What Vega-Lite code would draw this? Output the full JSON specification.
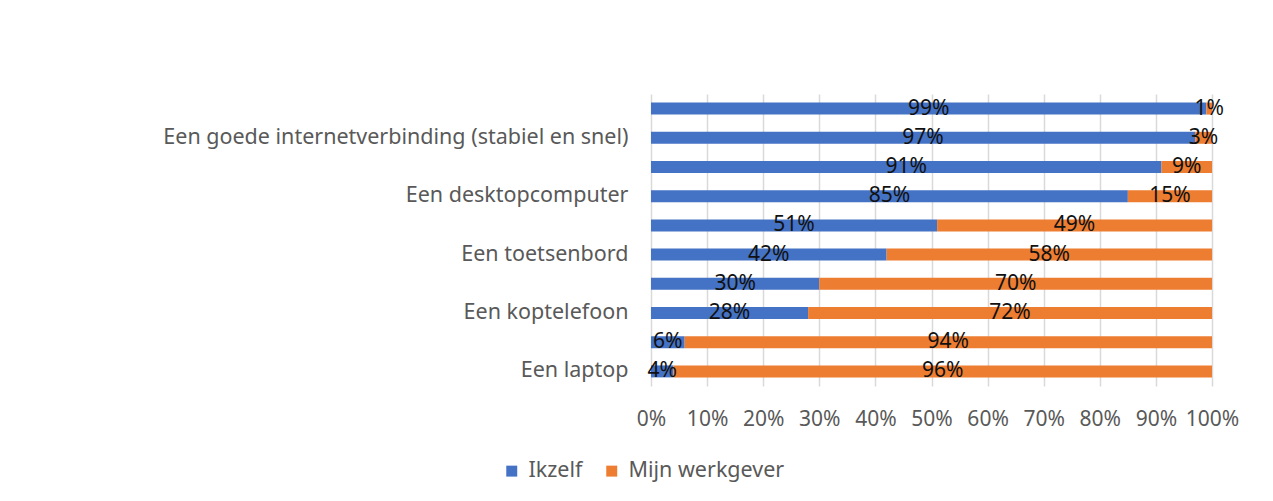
{
  "$schema": "https://vega.github.io/schema/vega-lite/v6.json",
  "width": 561,
  "height": 292,
  "autosize": "none",
  "padding": {"left": 651, "top": 94, "right": 61, "bottom": 115},
  "background": "white",
  "config": {"view": {"stroke": null}, "font": "Noto Sans"},
  "data": {"values": [
    {"item": "Categorie 10", "who": "Ikzelf", "pct": 99},
    {"item": "Categorie 10", "who": "Mijn werkgever", "pct": 1},
    {"item": "Een goede internetverbinding (stabiel en snel)", "who": "Ikzelf", "pct": 97},
    {"item": "Een goede internetverbinding (stabiel en snel)", "who": "Mijn werkgever", "pct": 3},
    {"item": "Categorie 8", "who": "Ikzelf", "pct": 91},
    {"item": "Categorie 8", "who": "Mijn werkgever", "pct": 9},
    {"item": "Een desktopcomputer", "who": "Ikzelf", "pct": 85},
    {"item": "Een desktopcomputer", "who": "Mijn werkgever", "pct": 15},
    {"item": "Categorie 6", "who": "Ikzelf", "pct": 51},
    {"item": "Categorie 6", "who": "Mijn werkgever", "pct": 49},
    {"item": "Een toetsenbord", "who": "Ikzelf", "pct": 42},
    {"item": "Een toetsenbord", "who": "Mijn werkgever", "pct": 58},
    {"item": "Categorie 4", "who": "Ikzelf", "pct": 30},
    {"item": "Categorie 4", "who": "Mijn werkgever", "pct": 70},
    {"item": "Een koptelefoon", "who": "Ikzelf", "pct": 28},
    {"item": "Een koptelefoon", "who": "Mijn werkgever", "pct": 72},
    {"item": "Categorie 2", "who": "Ikzelf", "pct": 6},
    {"item": "Categorie 2", "who": "Mijn werkgever", "pct": 94},
    {"item": "Een laptop", "who": "Ikzelf", "pct": 4},
    {"item": "Een laptop", "who": "Mijn werkgever", "pct": 96}
  ]},
  "transform": [
    {"stack": "pct", "groupby": ["item"], "sort": [{"field": "who", "order": "ascending"}], "offset": "normalize", "as": ["x0", "x1"]},
    {"calculate": "(datum.x0 + datum.x1) / 2", "as": "mid"},
    {"calculate": "datum.pct + '%'", "as": "lbl"}
  ],
  "encoding": {
    "y": {
      "field": "item", "type": "nominal", "sort": null,
      "scale": {"paddingInner": 0.59, "paddingOuter": 0.295},
      "axis": {
        "title": null, "domain": false, "ticks": false,
        "labelFontSize": 21.5, "labelColor": "#595959", "labelPadding": 23, "labelLimit": 640,
        "labelExpr": "indexof(datum.value, 'Categorie') == 0 ? '' : datum.value"
      }
    }
  },
  "layer": [
    {
      "mark": {"type": "bar"},
      "encoding": {
        "x": {
          "field": "x0", "type": "quantitative",
          "scale": {"domain": [0, 1], "nice": false},
          "axis": {
            "title": null, "format": ".0%", "values": [0, 0.1, 0.2, 0.3, 0.4, 0.5, 0.6, 0.7, 0.8, 0.9, 1],
            "grid": true, "gridColor": "#d9d9d9", "gridWidth": 1.5, "domain": false, "ticks": false,
            "labelFontSize": 21, "labelColor": "#595959", "labelPadding": 22,
            "labelFlush": false, "labelOverlap": false
          }
        },
        "x2": {"field": "x1"},
        "color": {
          "field": "who", "type": "nominal",
          "scale": {"domain": ["Ikzelf", "Mijn werkgever"], "range": ["#4472C4", "#ED7D31"]},
          "legend": {
            "title": null, "orient": "none", "direction": "horizontal",
            "legendX": -150, "legendY": 366,
            "symbolType": "square", "symbolSize": 120, "symbolStrokeWidth": 0,
            "labelFontSize": 21.5, "labelColor": "#595959", "labelOffset": 6, "columnPadding": 18
          }
        }
      }
    },
    {
      "mark": {"type": "text", "fontSize": 21, "color": "#111111", "baseline": "middle", "align": "center"},
      "encoding": {
        "x": {"field": "mid", "type": "quantitative"},
        "text": {"field": "lbl"}
      }
    }
  ]
}
